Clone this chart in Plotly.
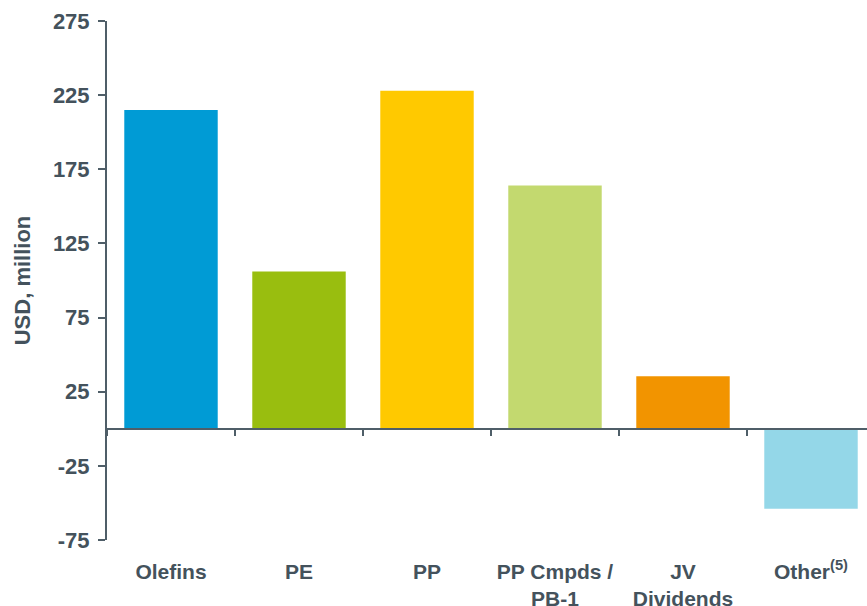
import plotly.graph_objects as go

categories = ["Olefins", "PE", "PP", "PP Cmpds /<br>PB-1", "JV<br>Dividends", "Other<sup>(5)</sup>"]
values = [215, 106, 228, 164, 35.5, -54]
colors = ["#009BD5", "#99BE0F", "#FFC900", "#C3D96F", "#F29400", "#94D7E8"]
y_ticks = [-75, -25, 25, 75, 125, 175, 225, 275]
y_tick_text = ["-75", "-25", "25", "75", "125", "175", "225", "275"]

TXT = "#44525C"
AX = "#4F5E68"
FONT = "Liberation Sans, Arial, sans-serif"

fig = go.Figure(go.Bar(x=categories, y=values, marker=dict(color=colors, line=dict(width=0)),
                       width=0.73, hoverinfo="skip"))

zero_pos = (0 - y_ticks[0]) / (y_ticks[-1] - y_ticks[0])

fig.update_layout(
    width=867, height=606,
    margin=dict(l=107, r=0, t=21, b=66),
    paper_bgcolor="white", plot_bgcolor="white",
    showlegend=False,
    font=dict(family=FONT, color=TXT),
    xaxis=dict(
        type="category",
        range=[-0.5, 5.4375],
        anchor="free", position=zero_pos,
        automargin=False,
        showline=True, linecolor=AX, linewidth=2,
        ticks="outside", tickson="boundaries", ticklen=6, tickwidth=2, tickcolor=AX,
        showgrid=False, zeroline=False,
        tickfont=dict(size=21, family=FONT, color=TXT, weight="bold"),
        ticklabelstandoff=124,
    ),
    yaxis=dict(
        range=[y_ticks[0], y_ticks[-1]],
        tickvals=y_ticks, ticktext=y_tick_text,
        automargin=False,
        showline=True, linecolor=AX, linewidth=2,
        ticks="outside", ticklen=7, tickwidth=2, tickcolor=AX,
        showgrid=False, zeroline=False,
        tickfont=dict(size=22, family=FONT, color=TXT, weight="bold"),
        ticklabelstandoff=4,
        title=dict(text="USD, million", font=dict(size=22, family=FONT, color=TXT, weight="bold"), standoff=16),
    ),
)

fig.write_html("out.html")
